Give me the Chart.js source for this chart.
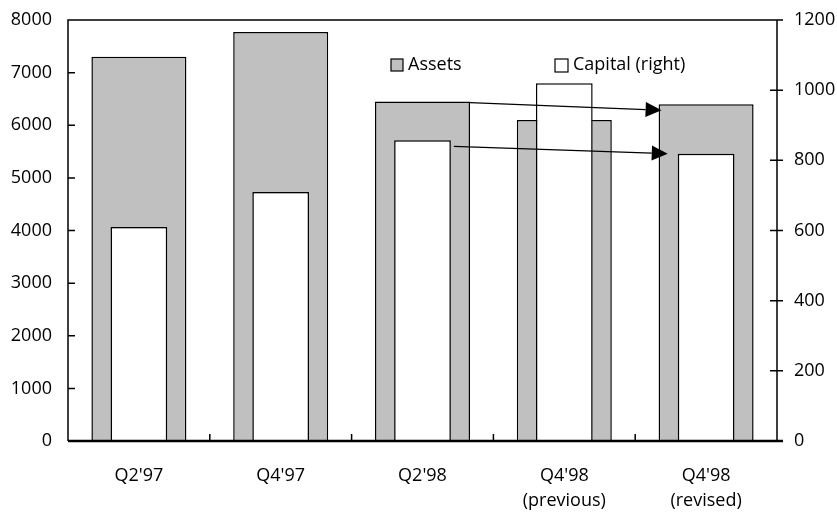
<!DOCTYPE html>
<html lang="en">

<head>
    <meta charset="UTF-8" />
    <title>Assets and Capital</title>
    <script src="https://cdn.jsdelivr.net/npm/chart.js"></script>
    <style>
        body { margin: 0; background: #fff; }
    </style>
</head>

<body>
    <canvas id="myChart" width="837" height="512"></canvas>
</body>

</html>

<script>
    // dados do gráfico
    const categorias = [["Q2'97"], ["Q4'97"], ["Q2'98"], ["Q4'98", "(previous)"], ["Q4'98", "(revised)"]];
    const ativos = [7300, 7770, 6450, 6100, 6400];
    const capital = [610, 710, 857, 1020, 819];
    const ticksEsquerda = [0, 1000, 2000, 3000, 4000, 5000, 6000, 7000, 8000];
    const ticksDireita = [0, 200, 400, 600, 800, 1000, 1200];

    const fonte = { family: "'Open Sans', 'Noto Sans', sans-serif", size: 18, lineHeight: 1.4 };

    // eixos desenhados a mão (ticks para dentro, moldura em cima)
    const eixos = {
        id: 'eixos',
        afterDatasetsDraw(chart) {
            const ctx = chart.ctx;
            const a = chart.chartArea;
            const x = chart.scales.x;
            const y = chart.scales.y;
            const y1 = chart.scales.y1;
            ctx.save();
            ctx.strokeStyle = '#000';
            ctx.lineWidth = 1.5;
            ctx.beginPath();
            ctx.moveTo(a.left, a.bottom);
            ctx.lineTo(a.left, a.top);
            ctx.lineTo(a.right, a.top);
            ctx.lineTo(a.right, a.bottom);
            // ticks da esquerda
            ticksEsquerda.forEach(function (v) {
                const py = y.getPixelForValue(v);
                ctx.moveTo(a.left, py);
                ctx.lineTo(a.left + 7, py);
            });
            // ticks da direita (cruzando o eixo)
            ticksDireita.forEach(function (v) {
                const py = y1.getPixelForValue(v);
                ctx.moveTo(a.right - 7, py);
                ctx.lineTo(a.right + 6, py);
            });
            // ticks entre categorias
            for (let i = 1; i < categorias.length; i++) {
                const px = (x.getPixelForValue(i - 1) + x.getPixelForValue(i)) / 2;
                ctx.moveTo(px, a.bottom);
                ctx.lineTo(px, a.bottom - 7);
            }
            ctx.stroke();

            ctx.lineWidth = 2.5;
            ctx.beginPath();
            ctx.moveTo(a.left, a.bottom);
            ctx.lineTo(a.right + 6, a.bottom);
            ctx.stroke();
            ctx.restore();
        }
    };

    // setas de Q2'98 para Q4'98 (revised)
    function seta(ctx, x0, y0, x1, y1) {
        const ang = Math.atan2(y1 - y0, x1 - x0);
        const comp = 16, larg = 7.5;
        const bx = x1 - comp * Math.cos(ang);
        const by = y1 - comp * Math.sin(ang);
        ctx.beginPath();
        ctx.moveTo(x0, y0);
        ctx.lineTo(bx, by);
        ctx.stroke();
        ctx.beginPath();
        ctx.moveTo(x1, y1);
        ctx.lineTo(bx - larg * Math.sin(ang), by + larg * Math.cos(ang));
        ctx.lineTo(bx + larg * Math.sin(ang), by - larg * Math.cos(ang));
        ctx.closePath();
        ctx.fill();
    }

    const setas = {
        id: 'setas',
        afterDatasetsDraw(chart) {
            const ctx = chart.ctx;
            const barrasCap = chart.getDatasetMeta(0).data;
            const barrasAtv = chart.getDatasetMeta(1).data;
            ctx.save();
            ctx.strokeStyle = '#000';
            ctx.fillStyle = '#000';
            ctx.lineWidth = 1.2;
            const a2 = barrasAtv[2], a4 = barrasAtv[4];
            seta(ctx, a2.x + a2.width / 2, a2.y + 1, a4.x - a4.width / 2 + 3, a4.y + 6);
            const c2 = barrasCap[2], c4 = barrasCap[4];
            seta(ctx, c2.x + c2.width / 2 + 3, c2.y + 6, c4.x - c4.width / 2 - 10, c4.y);
            ctx.restore();
        }
    };

    // legenda dentro da área do gráfico
    const legenda = {
        id: 'legenda',
        afterDraw(chart) {
            const ctx = chart.ctx;
            const a = chart.chartArea;
            const py = a.top + 45;
            ctx.save();
            ctx.font = fonte.size + 'px ' + fonte.family;
            ctx.textBaseline = 'middle';
            ctx.fillStyle = '#000';
            ctx.lineWidth = 1.2;
            ctx.strokeStyle = '#000';

            let px = a.left + 323;
            ctx.fillStyle = '#c0c0c0';
            ctx.fillRect(px, py - 6, 12, 12);
            ctx.strokeRect(px, py - 6, 12, 12);
            ctx.fillStyle = '#000';
            ctx.fillText('Assets', px + 17, py);

            px = a.left + 487;
            ctx.fillStyle = '#fff';
            ctx.fillRect(px, py - 6, 13, 13);
            ctx.strokeRect(px, py - 6, 13, 13);
            ctx.fillStyle = '#000';
            ctx.fillText('Capital (right)', px + 18, py);
            ctx.restore();
        }
    };

    // números sem separador de milhar
    function semSeparador(valor) {
        return String(valor);
    }

    // tamanho fixo dos eixos, sem folga extra para o rótulo do topo
    function larguraFixa(largura) {
        return function (s) {
            s.width = largura;
            s.paddingTop = 0;
            s.paddingBottom = 0;
        };
    }

    const dados = {
        labels: categorias,
        datasets: [{
            label: 'Capital (right)',
            data: capital,
            yAxisID: 'y1',
            backgroundColor: '#fff',
            borderColor: '#000',
            borderWidth: 1.5,
            grouped: false,
            barPercentage: 0.4,
            categoryPercentage: 1,
            order: 1
        }, {
            label: 'Assets',
            data: ativos,
            yAxisID: 'y',
            backgroundColor: '#c0c0c0',
            borderColor: '#000',
            borderWidth: 1.5,
            grouped: false,
            barPercentage: 0.67,
            categoryPercentage: 1,
            order: 2
        }]
    };

    const config = {
        type: 'bar',
        data: dados,
        options: {
            responsive: false,
            animation: false,
            layout: { padding: { top: 20, left: 0, right: 0, bottom: 0 } },
            plugins: {
                legend: { display: false },
                tooltip: { enabled: false }
            },
            scales: {
                x: {
                    offset: true,
                    grid: { display: false, drawTicks: false },
                    border: { display: false },
                    ticks: { font: fonte, color: '#000', padding: 22, maxRotation: 0, autoSkip: false },
                    afterFit(s) { s.height = 71; s.paddingLeft = 0; s.paddingRight = 0; }
                },
                y: {
                    position: 'left',
                    min: 0,
                    max: 8000,
                    grid: { display: false, drawTicks: false },
                    border: { display: false },
                    ticks: { stepSize: 1000, font: fonte, color: '#000', padding: 16, callback: semSeparador },
                    afterFit: larguraFixa(68)
                },
                y1: {
                    position: 'right',
                    min: 0,
                    max: 1200,
                    grid: { display: false, drawTicks: false },
                    border: { display: false },
                    ticks: { stepSize: 200, font: fonte, color: '#000', padding: 17, callback: semSeparador },
                    afterFit: larguraFixa(60)
                }
            }
        },
        plugins: [eixos, setas, legenda]
    };

    let myChart = new Chart(document.getElementById('myChart'), config);
</script>
